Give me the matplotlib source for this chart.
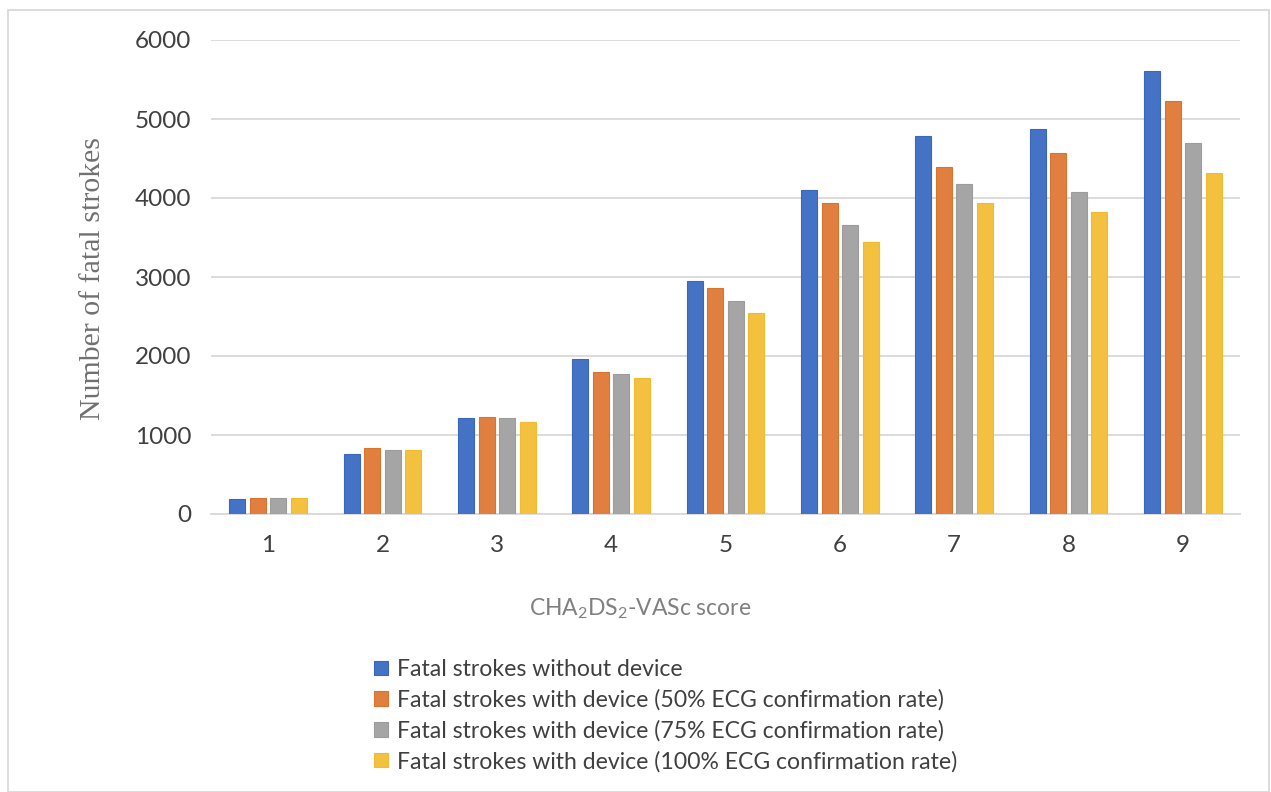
import numpy as np
import matplotlib.pyplot as plt
from matplotlib.patches import Rectangle

plt.rcParams['font.family'] = ['Lato', 'DejaVu Sans']
plt.rcParams['mathtext.fontset'] = 'custom'
plt.rcParams['mathtext.rm'] = 'Lato'
plt.rcParams['mathtext.it'] = 'Lato'

scores = [1, 2, 3, 4, 5, 6, 7, 8, 9]
no_device = [195, 760, 1215, 1960, 2950, 4100, 4785, 4875, 5610]
device_50 = [200, 835, 1230, 1795, 2860, 3940, 4390, 4570, 5230]
device_75 = [200, 810, 1215, 1775, 2690, 3660, 4175, 4080, 4690]
device_100 = [200, 810, 1165, 1725, 2550, 3445, 3940, 3825, 4315]

labels = ["Fatal strokes without device",
          "Fatal strokes with device (50% ECG confirmation rate)",
          "Fatal strokes with device (75% ECG confirmation rate)",
          "Fatal strokes with device (100% ECG confirmation rate)"]
colors = ["#4472C4", "#E07F3F", "#A5A5A5", "#F4C040"]
edges = ["#3A66BE", "#D9742F", "#9C9C9C", "#F2BB2E"]

fig = plt.figure(figsize=(12.71, 7.92), dpi=100)
ax = fig.add_axes([211 / 1271, 1 - 514 / 792, (1240 - 211) / 1271, (514 - 40) / 792])

x = np.arange(len(scores))
pitch = 0.18
width = 0.14
series = [no_device, device_50, device_75, device_100]
for i, vals in enumerate(series):
    ax.bar(x + (i - 1.5) * pitch, vals, width, color=colors[i],
           edgecolor=edges[i], linewidth=0.8, label=labels[i], zorder=3)

ax.set_xlim(-0.5, len(scores) - 0.5)
ax.set_ylim(0, 6000)
ax.set_yticks(range(0, 6001, 1000))
ax.set_xticks(x)
ax.set_xticklabels([str(s) for s in scores])
ax.grid(axis='y', color='#D9D9D9', linewidth=1.3, zorder=0)
for side in ['top', 'right', 'left']:
    ax.spines[side].set_visible(False)
ax.spines['bottom'].set_color('#D9D9D9')
ax.spines['bottom'].set_linewidth(1.3)
ax.tick_params(length=0, labelsize=17.5, colors='#404040')
ax.tick_params(axis='y', pad=14)
ax.tick_params(axis='x', pad=15)

fig.text(93 / 1271, 1 - 278 / 792, "Number of fatal strokes", rotation=90,
         family='Liberation Serif', fontsize=21.5, color='#707070',
         ha='center', va='center')
fig.text(640 / 1271, 1 - 609 / 792, r"CHA$_2$DS$_2$-VASc score",
         fontsize=16.5, color='#808080', ha='center', va='center')

handles, hl = ax.get_legend_handles_labels()
leg = fig.legend(handles, hl, loc='upper left',
                 bbox_to_anchor=(374 / 1271, 1 - 659 / 792),
                 frameon=False, fontsize=16.6, handlelength=0.6,
                 handleheight=0.6, handletextpad=0.4, labelspacing=0.4,
                 borderaxespad=0, borderpad=0)
for t in leg.get_texts():
    t.set_color('#404040')

# thin frame around the whole chart area
fig.patches.append(Rectangle((8 / 1271, 0), (1269 - 8) / 1271, 1 - 10 / 792,
                             transform=fig.transFigure, fill=False,
                             edgecolor='#D9D9D9', linewidth=1.3))

fig.savefig("out.png", dpi=100)
